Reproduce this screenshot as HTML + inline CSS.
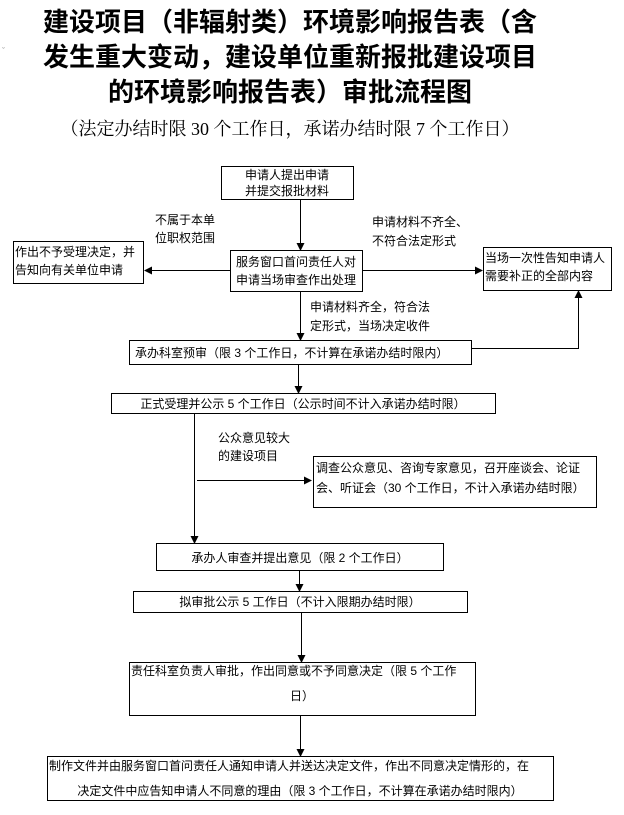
<!DOCTYPE html>
<html><head><meta charset="utf-8"><style>
body{margin:0;background:#fff;width:624px;height:810px;overflow:hidden}
svg text{font-family:"Liberation Sans","Noto Sans CJK SC",sans-serif;fill:#000}
</style></head><body>
<svg width="624" height="810" viewBox="0 0 624 810">
<defs><marker id="a" markerWidth="8" markerHeight="8" refX="7" refY="4" orient="auto" markerUnits="userSpaceOnUse"><path d="M0,0 L8,4 L0,8 z" fill="#000"/></marker></defs>
<g font-size="26" text-anchor="middle" font-weight="bold">
<text x="290" y="31">建设项目（非辐射类）环境影响报告表（含</text>
<text x="290" y="66">发生重大变动，建设单位重新报批建设项目</text>
<text x="290" y="101">的环境影响报告表）审批流程图</text>
</g>
<text x="290" y="135" font-size="18" text-anchor="middle" style="font-family:'Liberation Serif','Noto Serif CJK SC',serif">（法定办结时限 30 个工作日，承诺办结时限 7 个工作日）</text>
<text x="2" y="54" font-size="9" style="fill:#999">ˇ</text>
<g fill="none" stroke="#000" stroke-width="1">
<rect x="221.5" y="166.5" width="132" height="33"/>
<rect x="13.5" y="241.5" width="130" height="42"/>
<rect x="230.5" y="250.5" width="132" height="41"/>
<rect x="483.5" y="247.5" width="128" height="43"/>
<rect x="129.5" y="340.5" width="342" height="24"/>
<rect x="111.5" y="393.5" width="384" height="20"/>
<rect x="313.5" y="456.5" width="283" height="51"/>
<rect x="156.5" y="543.5" width="287" height="27"/>
<rect x="133.5" y="591.5" width="334" height="21"/>
<rect x="129.5" y="662.5" width="346" height="53"/>
<rect x="47.5" y="756.5" width="506" height="44"/>
<line x1="300.5" y1="199" x2="300.5" y2="250" marker-end="url(#a)"/>
<line x1="230" y1="270.5" x2="145" y2="270.5" marker-end="url(#a)"/>
<line x1="362" y1="270.5" x2="482" y2="270.5" marker-end="url(#a)"/>
<line x1="300.5" y1="291" x2="300.5" y2="340" marker-end="url(#a)"/>
<polyline points="471,348.5 578.5,348.5 578.5,291" marker-end="url(#a)"/>
<line x1="298.5" y1="364" x2="298.5" y2="393" marker-end="url(#a)"/>
<line x1="194.5" y1="413" x2="194.5" y2="543" marker-end="url(#a)"/>
<line x1="197" y1="480.5" x2="311" y2="480.5" marker-end="url(#a)"/>
<line x1="299.5" y1="570" x2="299.5" y2="591" marker-end="url(#a)"/>
<line x1="301.5" y1="612" x2="301.5" y2="662" marker-end="url(#a)"/>
<line x1="300.5" y1="715" x2="300.5" y2="756" marker-end="url(#a)"/>
</g>
<g font-size="12">
<text x="287" y="179" text-anchor="middle">申请人提出申请</text>
<text x="287" y="195" text-anchor="middle">并提交报批材料</text>
<text x="155" y="224">不属于本单</text>
<text x="155" y="242">位职权范围</text>
<text x="372" y="226">申请材料不齐全、</text>
<text x="372" y="245">不符合法定形式</text>
<text x="15" y="256">作出不予受理决定，并</text>
<text x="15" y="274">告知向有关单位申请</text>
<text x="296" y="266" text-anchor="middle">服务窗口首问责任人对</text>
<text x="296" y="284" text-anchor="middle">申请当场审查作出处理</text>
<text x="485" y="262">当场一次性告知申请人</text>
<text x="485" y="280">需要补正的全部内容</text>
<text x="310" y="311">申请材料齐全，符合法</text>
<text x="310" y="330">定形式，当场决定收件</text>
<text x="135" y="357">承办科室预审（限 3 个工作日，不计算在承诺办结时限内）</text>
<text x="303" y="408" text-anchor="middle">正式受理并公示 5 个工作日（公示时间不计入承诺办结时限）</text>
<text x="218" y="442">公众意见较大</text>
<text x="218" y="460">的建设项目</text>
<text x="316" y="472">调查公众意见、咨询专家意见，召开座谈会、论证</text>
<text x="316" y="492">会、听证会（30 个工作日，不计入承诺办结时限）</text>
<text x="300" y="562" text-anchor="middle">承办人审查并提出意见（限 2 个工作日）</text>
<text x="300" y="606" text-anchor="middle">拟审批公示 5 工作日（不计入限期办结时限）</text>
<text x="131" y="675">责任科室负责人审批，作出同意或不予同意决定（限 5 个工作</text>
<text x="302" y="700" text-anchor="middle">日）</text>
<text x="49" y="770">制作文件并由服务窗口首问责任人通知申请人并送达决定文件，作出不同意决定情形的，在</text>
<text x="300" y="795" text-anchor="middle">决定文件中应告知申请人不同意的理由（限 3 个工作日，不计算在承诺办结时限内）</text>
</g>
</svg>
</body></html>
